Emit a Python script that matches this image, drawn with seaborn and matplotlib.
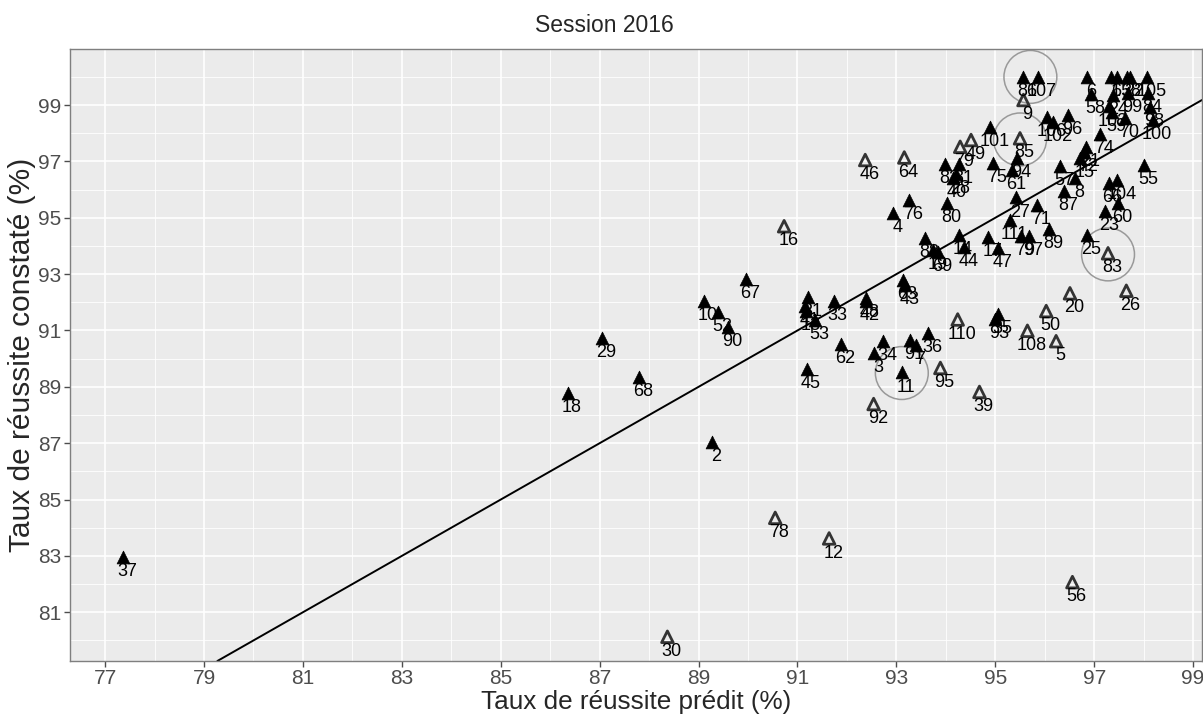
import numpy as np
import pandas as pd
import seaborn as sns
import matplotlib.pyplot as plt

# Filled triangles (black)
filled_lab = [37, 18, 29, 68, 10, 52, 90, 67, 2, 33, 42, 48, 63, 43, 31, 41, 13, 53, 62, 34,
              3, 91, 7, 36, 11, 45, 35, 93, 4, 76, 80, 82, 81, 40, 75, 61, 94, 27, 71, 111,
              79, 97, 89, 25, 23, 60, 66, 104, 8, 87, 55, 57, 15, 72, 21, 74, 96, 106, 102, 101,
              86, 107, 6, 58, 103, 59, 70, 100, 98, 99, 84, 1, 65, 38, 22, 105, 44, 14, 88, 19,
              69, 17, 47, 28, 24]
filled_x = [77.36, 86.35, 87.04, 87.80, 89.11, 89.40, 89.60, 89.95, 89.27, 91.73, 92.38, 92.38, 93.14, 93.18, 91.22, 91.16, 91.18, 91.36, 91.88, 92.73,
            92.55, 93.28, 93.40, 93.64, 93.11, 91.19, 95.06, 95.00, 92.94, 93.25, 94.03, 93.99, 94.26, 94.14, 94.96, 95.34, 95.44, 95.42, 95.84, 95.30,
            95.52, 95.69, 96.08, 96.85, 97.21, 97.49, 97.29, 97.47, 96.61, 96.38, 98.01, 96.31, 96.72, 96.80, 96.84, 97.12, 96.47, 96.05, 96.17, 94.90,
            95.57, 95.86, 96.85, 96.94, 97.29, 97.36, 97.63, 98.19, 98.13, 97.69, 98.09, 97.34, 97.46, 97.66, 97.73, 98.07, 94.37, 94.26, 93.58, 93.75,
            93.84, 94.86, 95.06, 94.20, 97.39]
filled_y = [82.97, 88.77, 90.75, 89.36, 92.04, 91.65, 91.13, 92.82, 87.05, 92.05, 92.04, 92.15, 92.79, 92.61, 92.19, 91.86, 91.69, 91.37, 90.52, 90.63,
            90.21, 90.66, 90.48, 90.92, 89.51, 89.65, 91.58, 91.40, 95.16, 95.63, 95.53, 96.91, 96.91, 96.40, 96.93, 96.69, 97.12, 95.72, 95.45, 94.92,
            94.35, 94.35, 94.59, 94.39, 95.25, 95.51, 96.22, 96.34, 96.40, 95.96, 96.88, 96.83, 97.12, 97.33, 97.51, 97.99, 98.64, 98.59, 98.40, 98.21,
            100.0, 100.0, 100.0, 99.41, 98.95, 98.76, 98.53, 98.47, 98.94, 99.43, 99.43, 100.0, 100.0, 100.0, 100.0, 100.0, 93.95, 94.39, 94.27, 93.85,
            93.78, 94.33, 93.92, 96.55, 99.36]

# Open triangles
open_lab = [30, 78, 12, 92, 39, 56, 95, 110, 108, 50, 20, 5, 83, 26, 16, 46, 64, 85, 9, 79, 49]
open_x = [88.37, 90.55, 91.64, 92.54, 94.68, 96.56, 93.89, 94.24, 95.65, 96.03, 96.51, 96.23, 97.28, 97.65, 90.73, 92.37, 93.16, 95.50, 95.57, 94.29, 94.51]
open_y = [80.13, 84.35, 83.62, 88.39, 88.82, 82.07, 89.67, 91.39, 90.99, 91.69, 92.32, 90.62, 93.74, 92.41, 94.70, 97.05, 97.14, 97.82, 99.18, 97.52, 97.76]

# Highlight circles
circle_x = [95.71, 95.50, 97.28, 93.11]
circle_y = [100.0, 97.78, 93.70, 89.49]

filled = pd.DataFrame({"lab": filled_lab, "x": filled_x, "y": filled_y})
opened = pd.DataFrame({"lab": open_lab, "x": open_x, "y": open_y})
circles = pd.DataFrame({"x": circle_x, "y": circle_y})

sns.set_theme(style="darkgrid", rc={
    "axes.facecolor": "#EBEBEB",
    "axes.edgecolor": "#7F7F7F",
    "grid.color": "white",
    "xtick.color": "#4D4D4D",
    "ytick.color": "#4D4D4D",
})
plt.rcParams["font.family"] = ["Liberation Sans", "DejaVu Sans"]

fig = plt.figure(figsize=(12.03, 7.23), dpi=100)
ax = fig.add_axes([70 / 1203, 1 - 661 / 723, 1132 / 1203, 612 / 723])

ax.axline((80, 80), slope=1, color="black", lw=1.4, zorder=2)

sns.scatterplot(data=filled, x="x", y="y", marker="^", color="black",
                edgecolor="black", s=85, linewidth=0.5, ax=ax, zorder=3)
sns.scatterplot(data=opened, x="x", y="y", marker="^", color="#333333",
                facecolor="none", edgecolor="#333333", s=70, linewidth=2.0, ax=ax, zorder=3)
sns.scatterplot(data=circles, x="x", y="y", marker="o", color="#999999",
                facecolor="none", edgecolor="#999999", s=1450, linewidth=1.1, ax=ax, zorder=2)

for df in (filled, opened):
    for lab, x, y in zip(df["lab"], df["x"], df["y"]):
        ax.annotate(str(int(lab)), (x, y), xytext=(3, -10.5),
                    textcoords="offset points", ha="center", va="center",
                    fontsize=13, color="black", zorder=4)

ax.set_xlim(76.29, 99.18)
ax.set_ylim(79.27, 100.99)
ax.set_xticks(np.arange(77, 100, 2))
ax.set_yticks(np.arange(81, 100, 2))
ax.set_xticks(np.arange(78, 100, 2), minor=True)
ax.set_yticks(np.arange(80, 101, 2), minor=True)
ax.grid(which="major", color="white", lw=1.2)
ax.grid(which="minor", color="white", lw=0.6)
ax.tick_params(which="major", length=4, width=1, color="#4D4D4D", labelsize=15, pad=2,
               bottom=True, left=True)
ax.tick_params(which="minor", length=0)
for s in ax.spines.values():
    s.set_color("#7F7F7F")
    s.set_linewidth(1)

ax.set_xlabel("Taux de réussite prédit (%)", fontsize=18.8, labelpad=1)
ax.set_ylabel("Taux de réussite constaté (%)", fontsize=21.5, labelpad=2)
fig.text(604 / 1203, 1 - 25 / 723, "Session 2016", fontsize=16.5,
         ha="center", va="center")

fig.savefig("out.png", dpi=100)
